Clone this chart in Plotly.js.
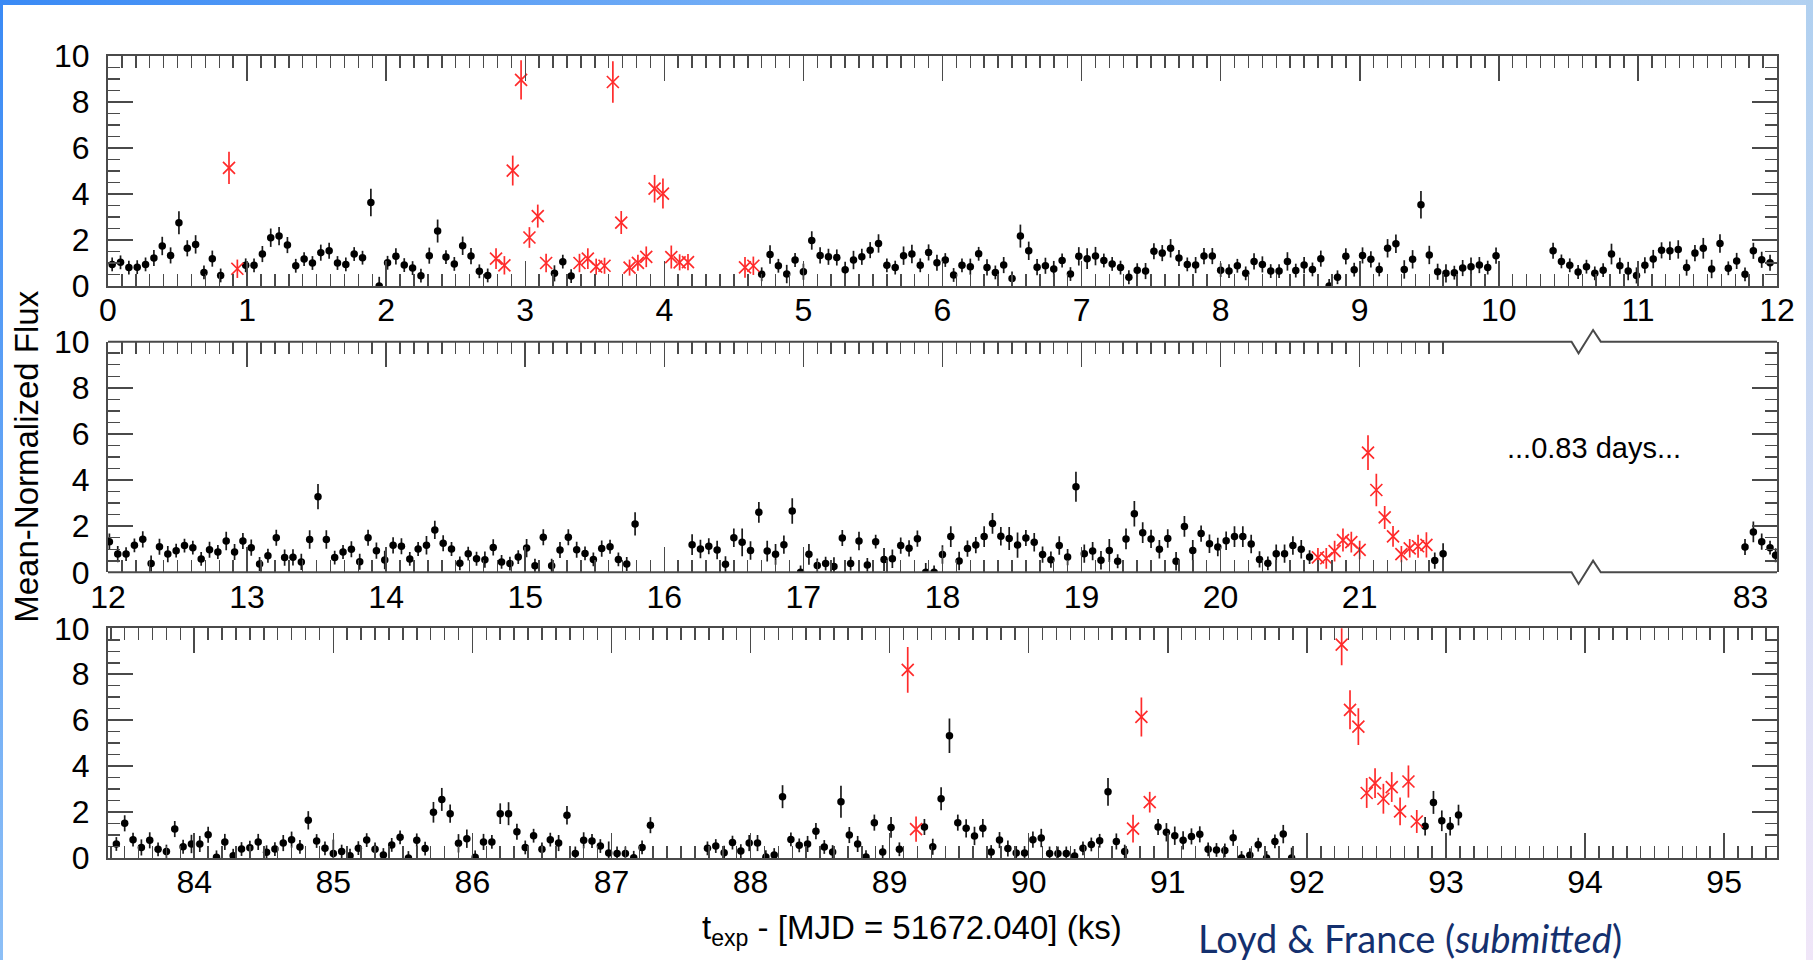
<!DOCTYPE html>
<html><head><meta charset="utf-8">
<script src="https://cdn.plot.ly/plotly-3.0.1.min.js"></script>
<style>
html,body{margin:0;padding:0;background:#fff;}
#wrap{position:relative;width:1813px;height:960px;overflow:hidden;background:#fff;}
#chart{position:absolute;left:0;top:0;width:1813px;height:960px;}
.deco{position:absolute;pointer-events:none;z-index:5;}
#btop{left:0;top:0;width:1813px;height:5px;background:linear-gradient(90deg,#3a8af5,#7fb5f6 50%,#b2d1f1);}
#bleft{left:0;top:0;width:3px;height:960px;background:linear-gradient(180deg,#3a8af5,#8dbff6);}
#bright{right:0;top:0;width:7px;height:960px;background:linear-gradient(180deg,#b0d0f0,#f0e6f8);}
</style></head>
<body>
<div id="wrap"><div id="chart"></div><div class="deco" id="btop"></div><div class="deco" id="bleft"></div><div class="deco" id="bright"></div></div>
<script>
// ---------- Panel 1 (0-12 ks) ----------
const p1QuietX = [0.03,0.09,0.15,0.21,0.27,0.33,0.39,0.45,0.51,0.57,0.63,0.69,0.75,0.81,
 0.99,1.05,1.11,1.17,1.23,1.29,1.35,1.41,1.47,1.53,1.59,1.65,1.71,1.77,1.83,1.89,1.95,
 2.01,2.07,2.13,2.19,2.25,2.31,2.37,2.43,2.49,2.55,2.61,2.67,2.73,
 3.21,3.27,3.33,
 4.70,4.76,4.82,4.88,4.94,5.00,5.06,5.12,5.18,5.24,5.30,5.36,5.42,5.48,5.54,5.60,5.66,5.72,5.78,5.84,
 5.90,5.96,6.02,6.08,6.14,6.20,6.26,6.32,6.38,6.44,6.50,6.56,6.62,6.68,6.74,6.80,6.86,6.92,6.98,7.04,
 7.10,7.16,7.22,7.28,7.34,7.40,7.46,7.52,7.58,7.64,7.70,7.76,7.82,7.88,7.94,
 8.00,8.06,8.12,8.18,8.24,8.30,8.36,8.42,8.48,8.54,8.60,8.66,8.72,8.78,8.84,8.90,8.96,9.02,9.08,9.14,
 9.20,9.26,9.32,9.38,9.44,9.50,9.56,9.62,9.68,9.74,9.80,9.86,9.92,9.98,
 10.39,10.45,10.51,10.57,10.63,10.69,10.75,10.81,10.87,10.93,10.99,11.05,11.11,11.17,11.23,11.29,
 11.35,11.41,11.47,11.53,11.59,11.65,11.71,11.77,11.83,11.89,11.95];
const p1QuietY = [0.94,1.03,0.80,0.82,0.94,1.22,1.74,1.33,2.75,1.64,1.81,0.59,1.19,0.46,
 0.90,0.90,1.39,2.10,2.17,1.78,0.88,1.17,1.00,1.45,1.53,1.00,0.94,1.39,1.23,3.63,0.0,
 1.01,1.29,0.91,0.78,0.45,1.32,2.39,1.26,0.96,1.75,1.30,0.64,0.46,
 0.55,1.06,0.43,
 0.51,1.37,0.88,0.52,1.13,0.62,1.98,1.33,1.27,1.24,0.71,1.13,1.27,1.56,1.85,0.90,0.80,1.32,1.39,0.90,
 1.46,1.01,1.13,0.48,0.90,0.84,1.40,0.81,0.59,0.91,0.33,2.17,1.53,0.82,0.88,0.74,1.11,0.52,1.29,1.19,
 1.30,1.11,0.96,0.80,0.38,0.69,0.65,1.51,1.43,1.64,1.22,0.94,0.91,1.30,1.30,
 0.69,0.65,0.88,0.55,1.07,0.94,0.65,0.65,1.07,0.67,0.91,0.72,1.19,0.0,0.38,1.29,0.71,1.33,1.16,0.72,
 1.64,1.84,0.72,1.16,3.53,1.35,0.62,0.55,0.58,0.78,0.84,0.91,0.80,1.32,
 1.53,1.07,0.90,0.61,0.84,0.55,0.69,1.39,0.88,0.65,0.46,0.90,1.17,1.55,1.53,1.59,
 0.80,1.43,1.64,0.74,1.85,0.77,1.09,0.51,1.53,1.14,1.01];
const p1QuietErr = [0.3,0.3,0.3,0.3,0.3,0.35,0.4,0.35,0.5,0.35,0.4,0.3,0.35,0.3,
 0.3,0.3,0.35,0.4,0.4,0.35,0.3,0.3,0.3,0.35,0.35,0.3,0.3,0.3,0.3,0.6,0.4,
 0.3,0.35,0.3,0.3,0.3,0.35,0.5,0.3,0.3,0.4,0.35,0.3,0.3,
 0.35,0.3,0.3,
 0.3,0.4,0.3,0.4,0.3,0.35,0.4,0.35,0.35,0.35,0.35,0.4,0.35,0.35,0.4,0.3,0.3,0.4,0.4,0.3,
 0.35,0.35,0.3,0.3,0.3,0.35,0.3,0.35,0.3,0.35,0.3,0.5,0.4,0.35,0.35,0.35,0.3,0.3,0.4,0.45,
 0.4,0.3,0.3,0.3,0.3,0.3,0.35,0.35,0.35,0.4,0.35,0.3,0.35,0.35,0.35,
 0.3,0.3,0.3,0.3,0.35,0.35,0.3,0.3,0.4,0.3,0.35,0.3,0.35,0.3,0.3,0.35,0.3,0.35,0.35,0.3,
 0.4,0.4,0.4,0.4,0.6,0.4,0.35,0.4,0.3,0.35,0.4,0.35,0.3,0.35,
 0.35,0.3,0.3,0.3,0.3,0.3,0.3,0.45,0.35,0.4,0.35,0.35,0.4,0.35,0.4,0.4,
 0.35,0.35,0.45,0.4,0.4,0.3,0.35,0.3,0.35,0.35,0.35];
const p1FlareX = [0.87,0.93,2.79,2.85,2.91,2.97,3.03,3.09,3.15,3.39,3.45,3.51,3.57,3.63,3.69,3.75,3.81,3.87,3.93,3.99,4.05,4.11,4.17,4.58,4.64];
const p1FlareY = [5.14,0.75,1.19,0.90,5.02,8.96,2.11,3.04,1.00,1.00,1.19,0.84,0.88,8.87,2.76,0.80,1.01,1.27,4.23,4.02,1.26,1.03,1.04,0.81,0.88];
const p1FlareErr = [0.7,0.4,0.45,0.4,0.65,0.85,0.45,0.5,0.4,0.4,0.45,0.35,0.35,0.9,0.5,0.35,0.35,0.45,0.6,0.65,0.5,0.35,0.35,0.45,0.4];

// ---------- Panel 2 (12-21.6 ks, then 83 ks) ----------
const p2QuietX = [12.01,12.07,12.13,12.19,12.25,12.31,12.37,12.43,12.49,12.55,
 12.61,12.67,12.73,12.79,12.85,12.91,12.97,13.03,13.09,13.15,
 13.21,13.27,13.33,13.39,13.45,13.51,13.57,13.63,13.69,13.75,
 13.81,13.87,13.93,13.99,14.05,14.11,14.17,14.23,14.29,14.35,
 14.41,14.47,14.53,14.59,14.65,14.71,14.77,14.83,14.89,14.95,
 15.01,15.07,15.13,15.19,15.25,15.31,15.37,15.43,15.49,15.55,
 15.61,15.67,15.73,15.79,
 16.20,16.26,16.32,16.38,16.44,16.50,16.56,16.62,16.68,16.74,
 16.80,16.86,16.92,16.98,17.04,17.10,17.16,17.22,17.28,17.34,
 17.40,17.46,17.52,17.58,17.64,17.70,17.76,17.82,17.88,17.94,
 18.00,18.06,18.12,18.18,18.24,18.30,18.36,18.42,18.48,18.54,
 18.60,18.66,18.72,18.78,18.84,18.90,18.96,19.02,19.08,19.14,
 19.20,19.26,19.32,19.38,19.44,19.50,19.56,19.62,19.68,19.74,
 19.80,19.86,19.92,19.98,20.04,20.10,20.16,20.22,20.28,20.34,
 20.40,20.46,20.52,20.58,20.64,
 21.54,21.60];
const p2QuietY = [1.33,0.79,0.79,1.17,1.43,0.38,1.11,0.79,0.94,1.16,
 1.07,0.58,0.98,0.88,1.36,0.88,1.36,1.07,0.36,0.72,
 1.50,0.64,0.65,0.45,1.42,3.28,1.42,0.64,0.88,1.00,
 0.46,1.50,0.94,0.53,1.17,1.13,0.58,1.01,1.17,1.84,
 1.26,1.01,0.39,0.81,0.59,0.55,1.08,0.45,0.38,0.66,
 1.05,0.29,1.52,0.29,0.97,1.52,0.98,0.82,0.56,1.03,
 1.11,0.56,0.36,2.10,
 1.20,1.01,1.13,0.97,0.35,1.50,1.30,0.95,2.60,0.92,
 0.78,1.20,2.66,0.0,0.78,0.30,0.38,0.25,1.49,0.38,
 1.36,0.32,1.33,0.56,0.59,1.16,1.04,1.46,0.0,0.0,
 0.77,1.55,0.49,1.03,1.18,1.55,2.12,1.56,1.47,1.18,
 1.49,1.30,0.77,0.55,1.16,0.66,3.71,0.81,0.92,0.52,
 0.95,0.48,1.45,2.54,1.72,1.45,1.00,1.47,0.48,1.99,
 0.95,1.68,1.24,1.10,1.37,1.55,1.55,1.23,0.56,0.39,
 0.81,0.81,1.16,1.00,0.66,
 0.51,0.81];
const p2QuietErr = [0.35,0.35,0.3,0.3,0.35,0.35,0.35,0.35,0.3,0.3,
 0.3,0.3,0.35,0.3,0.4,0.35,0.35,0.35,0.3,0.3,
 0.35,0.35,0.35,0.35,0.4,0.55,0.4,0.3,0.3,0.35,
 0.35,0.35,0.35,0.4,0.35,0.35,0.3,0.3,0.4,0.4,
 0.35,0.3,0.3,0.3,0.3,0.35,0.35,0.3,0.3,0.3,
 0.4,0.3,0.35,0.3,0.35,0.35,0.35,0.3,0.3,0.35,
 0.3,0.3,0.3,0.5,
 0.45,0.4,0.35,0.4,0.35,0.4,0.6,0.4,0.45,0.45,
 0.45,0.4,0.55,0.3,0.45,0.3,0.3,0.4,0.35,0.3,
 0.4,0.3,0.3,0.5,0.4,0.35,0.35,0.35,0.4,0.3,
 0.4,0.45,0.4,0.35,0.35,0.45,0.45,0.4,0.5,0.55,
 0.35,0.4,0.35,0.35,0.4,0.35,0.65,0.4,0.4,0.4,
 0.5,0.3,0.45,0.55,0.45,0.4,0.4,0.4,0.4,0.45,
 0.45,0.35,0.4,0.4,0.4,0.45,0.45,0.4,0.35,0.3,
 0.4,0.4,0.4,0.4,0.3,
 0.35,0.45];
const p2FlareX = [20.70,20.76,20.82,20.88,20.94,21.00,21.06,21.12,21.18,21.24,21.30,21.36,21.42,21.48];
const p2FlareY = [0.65,0.61,0.92,1.40,1.31,0.97,5.19,3.57,2.38,1.56,0.79,1.04,1.13,1.19];
const p2FlareErr = [0.4,0.45,0.45,0.5,0.45,0.4,0.75,0.7,0.5,0.45,0.35,0.4,0.5,0.55];
const p2LateX = [82.96,83.02,83.08,83.14,83.18];
const p2LateY = [1.10,1.75,1.33,1.07,0.74];
const p2LateErr = [0.35,0.45,0.35,0.3,0.3];

// ---------- Panel 3 (83.4-95.4 ks) ----------
const p3QuietX = [83.44,83.50,83.56,83.62,83.68,83.74,83.80,83.86,83.92,83.98,
 84.04,84.10,84.16,84.22,84.28,84.34,84.40,84.46,84.52,84.58,
 84.64,84.70,84.76,84.82,84.88,84.94,85.00,85.06,85.12,85.18,
 85.24,85.30,85.36,85.42,85.48,85.54,85.60,85.66,85.72,85.78,
 85.84,85.90,85.96,86.02,86.08,86.14,86.20,86.26,86.32,86.38,
 86.44,86.50,86.56,86.62,86.68,86.74,86.80,86.86,86.92,86.98,
 87.04,87.10,87.16,87.22,87.28,
 87.69,87.75,87.81,87.87,87.93,87.99,88.05,88.11,88.17,88.23,
 88.29,88.35,88.41,88.47,88.53,88.59,88.65,88.71,88.77,88.83,
 88.89,88.95,89.01,89.07,
 89.25,89.31,89.37,89.43,89.49,89.55,89.61,89.67,89.73,89.79,
 89.85,89.91,89.97,90.03,90.09,90.15,90.21,90.27,90.33,90.39,
 90.45,90.51,90.57,90.63,90.69,
 90.93,90.99,91.05,91.11,91.17,91.23,91.29,91.35,91.41,91.47,
 91.53,91.59,91.65,91.71,91.77,91.83,91.89,
 92.85,92.91,92.97,93.03,93.09];
const p3QuietY = [0.61,1.51,0.80,0.46,0.77,0.38,0.28,1.26,0.49,0.61,
 0.61,1.01,0.03,0.70,0.10,0.39,0.45,0.70,0.25,0.39,
 0.65,0.80,0.48,1.64,0.74,0.42,0.20,0.28,0.10,0.43,
 0.78,0.38,0.13,0.57,0.90,0.0,0.77,0.41,1.99,2.55,
 1.93,0.64,0.84,0.03,0.70,0.70,1.93,1.93,1.14,0.46,
 0.97,0.38,0.80,0.65,1.86,0.20,0.77,0.74,0.52,0.22,
 0.20,0.20,0.01,0.46,1.43,
 0.42,0.52,0.23,0.67,0.30,0.65,0.65,0.04,0.13,2.67,
 0.81,0.55,0.61,1.17,0.48,0.26,2.45,1.00,0.61,0.04,
 1.54,0.26,1.33,0.38,
 1.35,0.49,2.58,5.32,1.54,1.29,0.96,1.30,0.26,0.78,
 0.41,0.22,0.22,0.80,0.87,0.20,0.20,0.20,0.09,0.42,
 0.59,0.75,2.88,0.72,0.28,
 1.35,1.12,0.97,0.77,0.94,1.03,0.38,0.35,0.33,0.88,
 0.0,0.12,0.58,0.0,0.72,1.04,0.0,
 1.38,2.42,1.62,1.38,1.87];
const p3QuietErr = [0.3,0.35,0.3,0.35,0.35,0.3,0.3,0.35,0.3,0.4,
 0.35,0.35,0.3,0.35,0.3,0.3,0.3,0.35,0.3,0.3,
 0.35,0.35,0.3,0.4,0.3,0.3,0.6,0.3,0.3,0.3,
 0.3,0.3,0.3,0.3,0.3,0.3,0.3,0.3,0.45,0.5,
 0.4,0.4,0.4,0.3,0.35,0.3,0.45,0.5,0.35,0.3,
 0.3,0.3,0.3,0.35,0.4,0.3,0.35,0.3,0.3,0.5,
 0.3,0.3,0.3,0.3,0.35,
 0.3,0.3,0.3,0.3,0.3,0.35,0.35,0.3,0.3,0.5,
 0.3,0.3,0.35,0.35,0.3,0.3,0.7,0.35,0.35,0.3,
 0.35,0.3,0.45,0.3,
 0.35,0.35,0.5,0.75,0.35,0.4,0.4,0.4,0.3,0.35,
 0.35,0.3,0.3,0.35,0.4,0.3,0.3,0.3,0.3,0.3,
 0.3,0.3,0.6,0.35,0.3,
 0.35,0.4,0.4,0.4,0.35,0.35,0.3,0.3,0.3,0.35,
 0.3,0.3,0.3,0.3,0.3,0.4,0.45,
 0.4,0.5,0.45,0.4,0.45];
const p3FlareX = [89.13,89.19,90.75,90.81,90.87,92.25,92.31,92.37,92.43,92.49,92.55,92.61,92.67,92.73,92.79];
const p3FlareY = [8.19,1.26,1.28,6.14,2.43,9.29,6.45,5.72,2.83,3.26,2.58,3.09,2.03,3.33,1.59];
const p3FlareErr = [1.0,0.55,0.6,0.85,0.45,0.9,0.85,0.8,0.65,0.65,0.65,0.65,0.6,0.7,0.5];

// Tick labels
const p1TickVals = [0,1,2,3,4,5,6,7,8,9,10,11,12];
const p2TickVals = [12,13,14,15,16,17,18,19,20,21];
const p2LateTickVals = [83];
const yTickVals = [0,2,4,6,8,10];

// ---------- styling ----------
const FONT = 'Liberation Sans, Arial, Helvetica, sans-serif';
const LINE = '#4a4a4a';
const BLACK = '#000000';
const RED = '#ff2b2b';

function quiet(x, y, e, xa, ya) {
  return {type:'scatter', mode:'markers', x:x, y:y, xaxis:xa, yaxis:ya,
    error_y:{type:'data', array:e, visible:true, color:'#1a1a1a', thickness:1.7, width:0},
    marker:{color:BLACK, size:7.5, symbol:'circle'}, showlegend:false, hoverinfo:'skip'};
}
function flare(x, y, e, xa, ya) {
  return {type:'scatter', mode:'markers', x:x, y:y, xaxis:xa, yaxis:ya,
    error_y:{type:'data', array:e, visible:true, color:RED, thickness:1.7, width:0},
    marker:{color:RED, size:12, symbol:'x-thin-open', line:{color:RED, width:1.7}},
    showlegend:false, hoverinfo:'skip'};
}

const traces = [
  quiet(p1QuietX, p1QuietY, p1QuietErr, 'x', 'y'),
  flare(p1FlareX, p1FlareY, p1FlareErr, 'x', 'y'),
  quiet(p2QuietX, p2QuietY, p2QuietErr, 'x2', 'y2'),
  flare(p2FlareX, p2FlareY, p2FlareErr, 'x2', 'y2'),
  quiet(p2LateX, p2LateY, p2LateErr, 'x3', 'y3'),
  quiet(p3QuietX, p3QuietY, p3QuietErr, 'x4', 'y4'),
  flare(p3FlareX, p3FlareY, p3FlareErr, 'x4', 'y4')
];

const tickFont = {family:FONT, size:32, color:'#000'};
const minorX = {dtick:0.1, tick0:0, ticklen:12, ticks:'inside', tickcolor:LINE, tickwidth:1.5, showgrid:false};
const minorY = {dtick:0.5, tick0:0, ticklen:12, ticks:'inside', tickcolor:LINE, tickwidth:1.5, showgrid:false};
function baseAx(extra) {
  return Object.assign({showline:true, linecolor:LINE, linewidth:2, mirror:'allticks',
    ticks:'inside', ticklen:25, tickwidth:1.5, tickcolor:LINE, tickfont:tickFont,
    showgrid:false, zeroline:false, fixedrange:true}, extra);
}
function yAx(domain, anchor, extra) {
  return baseAx(Object.assign({domain:domain, anchor:anchor, range:[0,10], tickmode:'array',
    tickvals:yTickVals, minor:minorY, ticklabelstandoff:10}, extra||{}));
}

// minor tick positions for the broken axis of panel 2 (stop at 21.6)
const p2Minor = [];
for (let i = 121; i <= 216; i++) { if (i % 10 !== 0) p2Minor.push(i/10); }

const D1 = [0.7132, 1], D2 = [0.3562, 0.6438], D3 = [0, 0.2864];
const SPLIT = 0.8856;
const XSTAND = -5;

const layout = {
  width:1813, height:960,
  margin:{l:108, r:36, t:56, b:102},
  paper_bgcolor:'#ffffff', plot_bgcolor:'rgba(0,0,0,0)',
  font:{family:FONT, color:'#000'},
  showlegend:false,
  xaxis: baseAx({domain:[0,1], anchor:'y', range:[0,12], tickmode:'array', tickvals:p1TickVals,
    minor:minorX, ticklabelstandoff:XSTAND}),
  yaxis: yAx(D1, 'x'),
  xaxis2: baseAx({domain:[0,SPLIT], anchor:'y2', range:[12,22.628], tickmode:'array', tickvals:p2TickVals,
    minor:Object.assign({}, minorX, {tickmode:'array', tickvals:p2Minor, dtick:undefined}),
    linecolor:'rgba(0,0,0,0)', ticklabelstandoff:XSTAND}),
  yaxis2: yAx(D2, 'x2', {mirror:false}),
  xaxis3: baseAx({domain:[SPLIT,1], anchor:'y3', range:[81.817,83.19], tickmode:'array', tickvals:p2LateTickVals,
    ticks:'', mirror:false, linecolor:'rgba(0,0,0,0)', ticklabelstandoff:XSTAND}),
  yaxis3: yAx(D2, 'x3', {side:'right', mirror:false, showticklabels:false}),
  xaxis4: baseAx({domain:[0,1], anchor:'y4', range:[83.38,95.38], tickmode:'linear', tick0:0, dtick:1,
    minor:minorX, ticklabelstandoff:XSTAND}),
  yaxis4: yAx(D3, 'x4'),
  shapes: [
    {type:'path', xref:'paper', yref:'paper', layer:'above',
     path:'M 0,0.6438 L 0.8769,0.6438 L 0.8811,0.6293 L 0.8898,0.6583 L 0.8944,0.6438 L 1,0.6438',
     line:{color:LINE, width:2}},
    {type:'path', xref:'paper', yref:'paper', layer:'above',
     path:'M 0,0.3562 L 0.8769,0.3562 L 0.8811,0.3417 L 0.8898,0.3707 L 0.8944,0.3562 L 1,0.3562',
     line:{color:LINE, width:2}}
  ],
  annotations: [
    {text:'Mean-Normalized Flux', xref:'paper', yref:'paper', x:-0.0493, y:0.5, textangle:-90,
     showarrow:false, xanchor:'center', yanchor:'middle', font:{family:FONT, size:33, color:'#000'}},
    {text:'t<sub>exp</sub> - [MJD = 51672.040] (ks)', xref:'paper', yref:'paper', x:0.4817, y:-0.0898,
     showarrow:false, xanchor:'center', yanchor:'middle', font:{family:FONT, size:33, color:'#000'}},
    {text:'...0.83 days...', xref:'paper', yref:'paper', x:0.8904, y:0.5112,
     showarrow:false, xanchor:'center', yanchor:'middle', font:{family:FONT, size:29, color:'#000'}},
    {text:'Loyd &amp; France (<i>submitted</i>)', xref:'paper', yref:'paper', x:0.780, y:-0.0995,
     showarrow:false, xanchor:'center', yanchor:'middle', font:{family:'Lato, Open Sans, sans-serif', size:38, color:'#14306e'}}
  ]
};

Plotly.newPlot('chart', traces, layout, {displayModeBar:false, staticPlot:true});
</script>
</body></html>
